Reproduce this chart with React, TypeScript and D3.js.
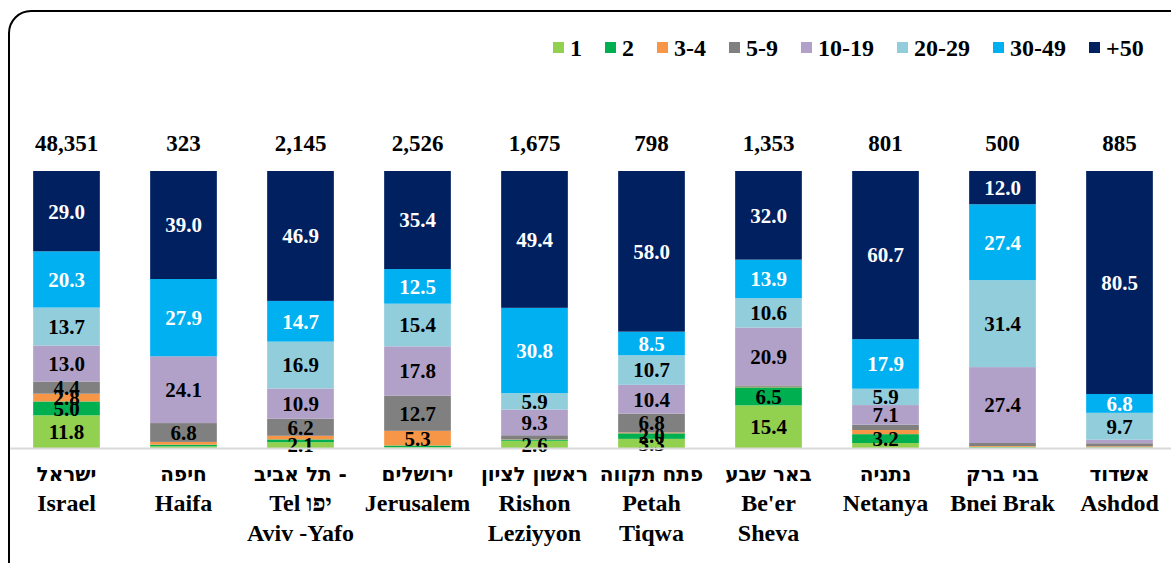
import React from "react";
import * as d3 from "d3";

const cities = ["Israel", "Haifa", "Tel Aviv -Yafo", "Jerusalem", "Rishon Leziyyon", "Petah Tiqwa", "Be'er Sheva", "Netanya", "Bnei Brak", "Ashdod"];
const labelLines = [
  ["ישראל", "Israel"],
  ["חיפה", "Haifa"],
  ["\u202Aתל אביב -\u202C", "Tel יפו", "Aviv -Yafo"],
  ["ירושלים", "Jerusalem"],
  ["ראשון לציון", "Rishon", "Leziyyon"],
  ["פתח תקווה", "Petah", "Tiqwa"],
  ["באר שבע", "Be'er", "Sheva"],
  ["נתניה", "Netanya"],
  ["בני ברק", "Bnei Brak"],
  ["אשדוד", "Ashdod"],
];
const totals = ["48,351", "323", "2,145", "2,526", "1,675", "798", "1,353", "801", "500", "885"];

const seriesNames = ["1", "2", "3-4", "5-9", "10-19", "20-29", "30-49", "+50"];
const colors = ["#92d050", "#00b050", "#f79646", "#808080", "#b1a0c7", "#92cddc", "#00b0f0", "#002060"];

// percent of firms by size, per city
const v1 = [11.8, 0.6, 2.1, 0.3, 2.6, 3.3, 15.4, 1.8, 0.2, 0.2];
const v2 = [5.0, 0.6, 1.0, 0.6, 0.4, 2.0, 6.5, 3.2, 0.2, 0.1];
const v34 = [2.8, 1.0, 1.3, 5.3, 0.1, 0.3, 0.2, 1.5, 0.3, 0.3];
const v59 = [4.4, 6.8, 6.2, 12.7, 1.5, 6.8, 0.5, 1.9, 1.1, 1.1];
const v1019 = [13.0, 24.1, 10.9, 17.8, 9.3, 10.4, 20.9, 7.1, 27.4, 1.3];
const v2029 = [13.7, 0, 16.9, 15.4, 5.9, 10.7, 10.6, 5.9, 31.4, 9.7];
const v3049 = [20.3, 27.9, 14.7, 12.5, 30.8, 8.5, 13.9, 17.9, 27.4, 6.8];
const v50 = [29.0, 39.0, 46.9, 35.4, 49.4, 58.0, 32.0, 60.7, 12.0, 80.5];

const W = 1171;
const H = 563;
const font = '"Liberation Serif", Tinos, "DejaVu Serif", "Times New Roman", serif';
const hebFont = '"DejaVu Sans", "Liberation Sans", "Noto Sans", sans-serif';

export default function App() {
  const columns = [v1, v2, v34, v59, v1019, v2029, v3049, v50];
  const rows = cities.map((c, i) => {
    const r: any = { city: c };
    seriesNames.forEach((s, k) => (r[s] = columns[k][i]));
    return r;
  });
  const stacked = d3.stack().keys(seriesNames)(rows);

  const x = d3.scaleBand().domain(cities).range([8, 1178]).paddingInner(0.43).paddingOuter(0.215);
  const y = d3.scaleLinear().domain([0, 100]).range([448, 171]);

  // legend flow
  const charW = (t: string) => d3.sum(t.split(""), (ch) => (ch === "-" ? 8 : ch === "+" ? 13.7 : 12));
  let lx = 553;
  const legend = seriesNames.map((s, i) => {
    const item = { s, x: lx, color: colors[i] };
    lx += 11 + 6 + charW(s) + 23;
    return item;
  });

  const isHeb = (t: string) => /^[\u202A]?[\u0590-\u05FF]/.test(t);

  return (
    <svg width={W} height={H} style={{ position: "fixed", left: 0, top: 0, background: "#fff", fontFamily: font, fontWeight: 700 }}>
      <rect x={9} y={11} width={1185} height={580} rx={22} ry={22} fill="#fff" stroke="#000" strokeWidth={2} />

      {legend.map((d) => (
        <g key={d.s}>
          <rect x={d.x} y={42} width={11} height={11} fill={d.color} />
          <text x={d.x + 17} y={56} fontSize={24} fill="#000">{d.s}</text>
        </g>
      ))}

      {stacked.map((layer, k) => (
        <g key={layer.key} fill={colors[k]}>
          {layer.map((d, i) => (
            <rect key={i} x={x(cities[i])} y={y(d[1])} width={x.bandwidth()} height={Math.max(0, y(d[0]) - y(d[1]))} />
          ))}
        </g>
      ))}

      {stacked.map((layer, k) => (
        <g key={"l" + layer.key} fill={k >= 6 ? "#fff" : "#000"} fontSize={21} textAnchor="middle">
          {layer.map((d, i) => {
            const v = d[1] - d[0];
            if (v < 2) return null;
            return (
              <text key={i} x={x(cities[i])! + x.bandwidth() / 2} y={(y(d[0]) + y(d[1])) / 2} dy="0.35em">
                {v.toFixed(1)}
              </text>
            );
          })}
        </g>
      ))}

      <line x1={10} x2={W} y1={448.5} y2={448.5} stroke="#d9d9d9" strokeWidth={2} />

      {cities.map((c, i) => (
        <text key={"t" + c} x={x(c)! + x.bandwidth() / 2} y={151} fontSize={23} textAnchor="middle" fill="#000">
          {totals[i]}
        </text>
      ))}

      {cities.map((c, i) => (
        <g key={"c" + c} fontSize={24} textAnchor="middle" fill="#000">
          {labelLines[i].map((t, j) => (
            <text key={j} x={x(c)! + x.bandwidth() / 2} y={481 + j * 30}
              style={isHeb(t) ? { fontFamily: hebFont, fontSize: 20 } : undefined}>{t}</text>
          ))}
        </g>
      ))}
    </svg>
  );
}
